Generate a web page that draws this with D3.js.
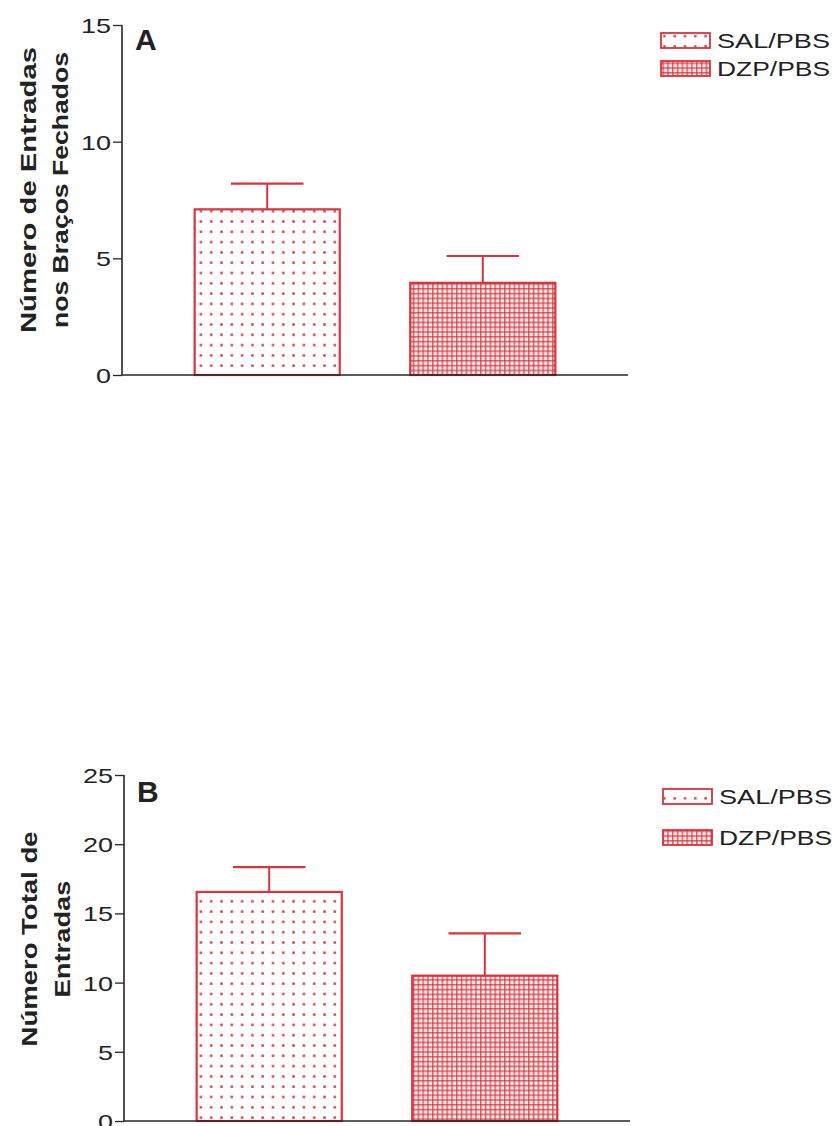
<!DOCTYPE html>
<html>
<head>
<meta charset="utf-8">
<script src="https://cdn.jsdelivr.net/npm/d3@7"></script>
<style>
  html, body { margin: 0; padding: 0; background: #fff; }
  svg { display: block; }
  text { font-family: "Liberation Sans", Arial, sans-serif; fill: #222; }
</style>
</head>
<body>
<svg id="chart" width="836" height="1126"></svg>
<script>
// Groups shown in both panels
const groups = ["SAL/PBS", "DZP/PBS"];

// Panel A: entries into the closed arms (mean and SEM)
const closedArmMeans = [7.1, 3.95];
const closedArmSem = [1.1, 1.15];
const closedArmTicks = [0, 5, 10, 15];

// Panel B: total number of entries (mean and SEM)
const totalMeans = [16.55, 10.5];
const totalSem = [1.8, 3.05];
const totalTicks = [0, 5, 10, 15, 20, 25];

const RED = "#d8343c";
const AXIS = "#262626";

const svg = d3.select("#chart");

// Fill patterns: sparse dots for saline, fine grid for diazepam
const defs = svg.append("defs");
const sparse = defs.append("pattern")
  .attr("id", "pat-sal").attr("patternUnits", "userSpaceOnUse")
  .attr("width", 10.3).attr("height", 10.3);
sparse.append("rect").attr("x", 4).attr("y", 4).attr("width", 2.4).attr("height", 2.4)
  .attr("fill", RED);

const dense = defs.append("pattern")
  .attr("id", "pat-dzp").attr("patternUnits", "userSpaceOnUse")
  .attr("width", 4.8).attr("height", 4.8);
dense.append("rect").attr("width", 4.8).attr("height", 4.8).attr("fill", "#fcf1f1");
dense.append("rect").attr("x", 0).attr("y", 0).attr("width", 4.8).attr("height", 1.6)
  .attr("fill", RED).attr("opacity", 0.75);
dense.append("rect").attr("x", 0).attr("y", 0).attr("width", 1.6).attr("height", 4.8)
  .attr("fill", RED).attr("opacity", 0.75);

const fills = ["url(#pat-sal)", "url(#pat-dzp)"];

function panel(cfg) {
  const g = svg.append("g");

  const x = d3.scaleBand().domain(groups)
    .range([cfg.x0, cfg.x1]).paddingInner(0.327).paddingOuter(0.337);
  const y = d3.scaleLinear().domain([0, cfg.max]).range([cfg.y0, cfg.y1]);

  // Bars
  g.selectAll("rect.bar").data(groups).join("rect")
    .attr("class", "bar")
    .attr("x", d => x(d))
    .attr("y", (d, i) => y(cfg.means[i]))
    .attr("width", x.bandwidth())
    .attr("height", (d, i) => y(0) - y(cfg.means[i]))
    .attr("fill", (d, i) => fills[i])
    .attr("stroke", RED).attr("stroke-width", 2.2);

  // Upper error bars (SEM)
  const capHalf = x.bandwidth() / 4;
  groups.forEach((d, i) => {
    const cx = x(d) + x.bandwidth() / 2;
    const top = y(cfg.means[i] + cfg.sem[i]);
    g.append("line").attr("x1", cx).attr("x2", cx)
      .attr("y1", y(cfg.means[i])).attr("y2", top)
      .attr("stroke", RED).attr("stroke-width", 2);
    g.append("line").attr("x1", cx - capHalf).attr("x2", cx + capHalf)
      .attr("y1", top).attr("y2", top)
      .attr("stroke", RED).attr("stroke-width", 2.2);
  });

  // X axis baseline
  g.append("line").attr("x1", cfg.x0).attr("x2", cfg.x1)
    .attr("y1", y(0)).attr("y2", y(0))
    .attr("stroke", AXIS).attr("stroke-width", 1.6);

  // Y axis
  const yAxis = g.append("g").attr("transform", `translate(${cfg.x0},0)`)
    .call(d3.axisLeft(y).tickValues(cfg.ticks).tickSize(9).tickPadding(2)
      .tickFormat(d3.format("d")));
  yAxis.select(".domain").attr("stroke", AXIS).attr("stroke-width", 1.6)
    .attr("d", `M0,${y(0)}V${y(cfg.max)}`);
  yAxis.selectAll(".tick line").attr("stroke", AXIS).attr("stroke-width", 1.3);
  yAxis.selectAll(".tick text")
    .attr("font-family", "Liberation Sans, Arial, sans-serif")
    .attr("font-size", 21).attr("fill", "#2a2a2a")
    .attr("dy", "0.36em")
    .attr("textLength", d => String(d).length * 15)
    .attr("lengthAdjust", "spacingAndGlyphs");

  // Panel letter
  g.append("text").attr("x", cfg.x0 + 13).attr("y", cfg.letterY)
    .attr("font-size", 30).attr("font-weight", "bold").attr("fill", "#1a1a1a")
    .text(cfg.letter);

  // Y title (two lines, rotated)
  cfg.title.forEach((t, i) => {
    g.append("text")
      .attr("transform", `translate(${cfg.titleX[i]},${cfg.titleCy}) rotate(-90)`)
      .attr("text-anchor", "middle")
      .attr("font-size", 22).attr("font-weight", "bold").attr("fill", "#1e1e1e")
      .attr("textLength", cfg.titleLen[i]).attr("lengthAdjust", "spacingAndGlyphs")
      .text(t);
  });

  // Legend
  groups.forEach((d, i) => {
    const ly = cfg.legendY[i];
    g.append("rect").attr("x", cfg.legendX).attr("y", ly - 15)
      .attr("width", 49).attr("height", 15)
      .attr("fill", fills[i]).attr("stroke", RED).attr("stroke-width", 1.8);
    g.append("text").attr("x", cfg.legendX + 56).attr("y", ly)
      .attr("font-size", 21).attr("fill", "#262626")
      .attr("textLength", 113).attr("lengthAdjust", "spacingAndGlyphs")
      .text(d);
  });
}

panel({
  x0: 122, x1: 628, y0: 375, y1: 25, max: 15,
  means: closedArmMeans, sem: closedArmSem, ticks: closedArmTicks,
  letter: "A", letterY: 50,
  title: ["Número de Entradas", "nos Braços Fechados"],
  titleX: [36, 68], titleLen: [286, 276], titleCy: 190,
  legendX: 661, legendY: [48, 76]
});

panel({
  x0: 124, x1: 630, y0: 1121, y1: 775, max: 25,
  means: totalMeans, sem: totalSem, ticks: totalTicks,
  letter: "B", letterY: 802,
  title: ["Número Total de", "Entradas"],
  titleX: [37, 70], titleLen: [215, 117], titleCy: 939,
  legendX: 663, legendY: [804, 845]
});
</script>
</body>
</html>
